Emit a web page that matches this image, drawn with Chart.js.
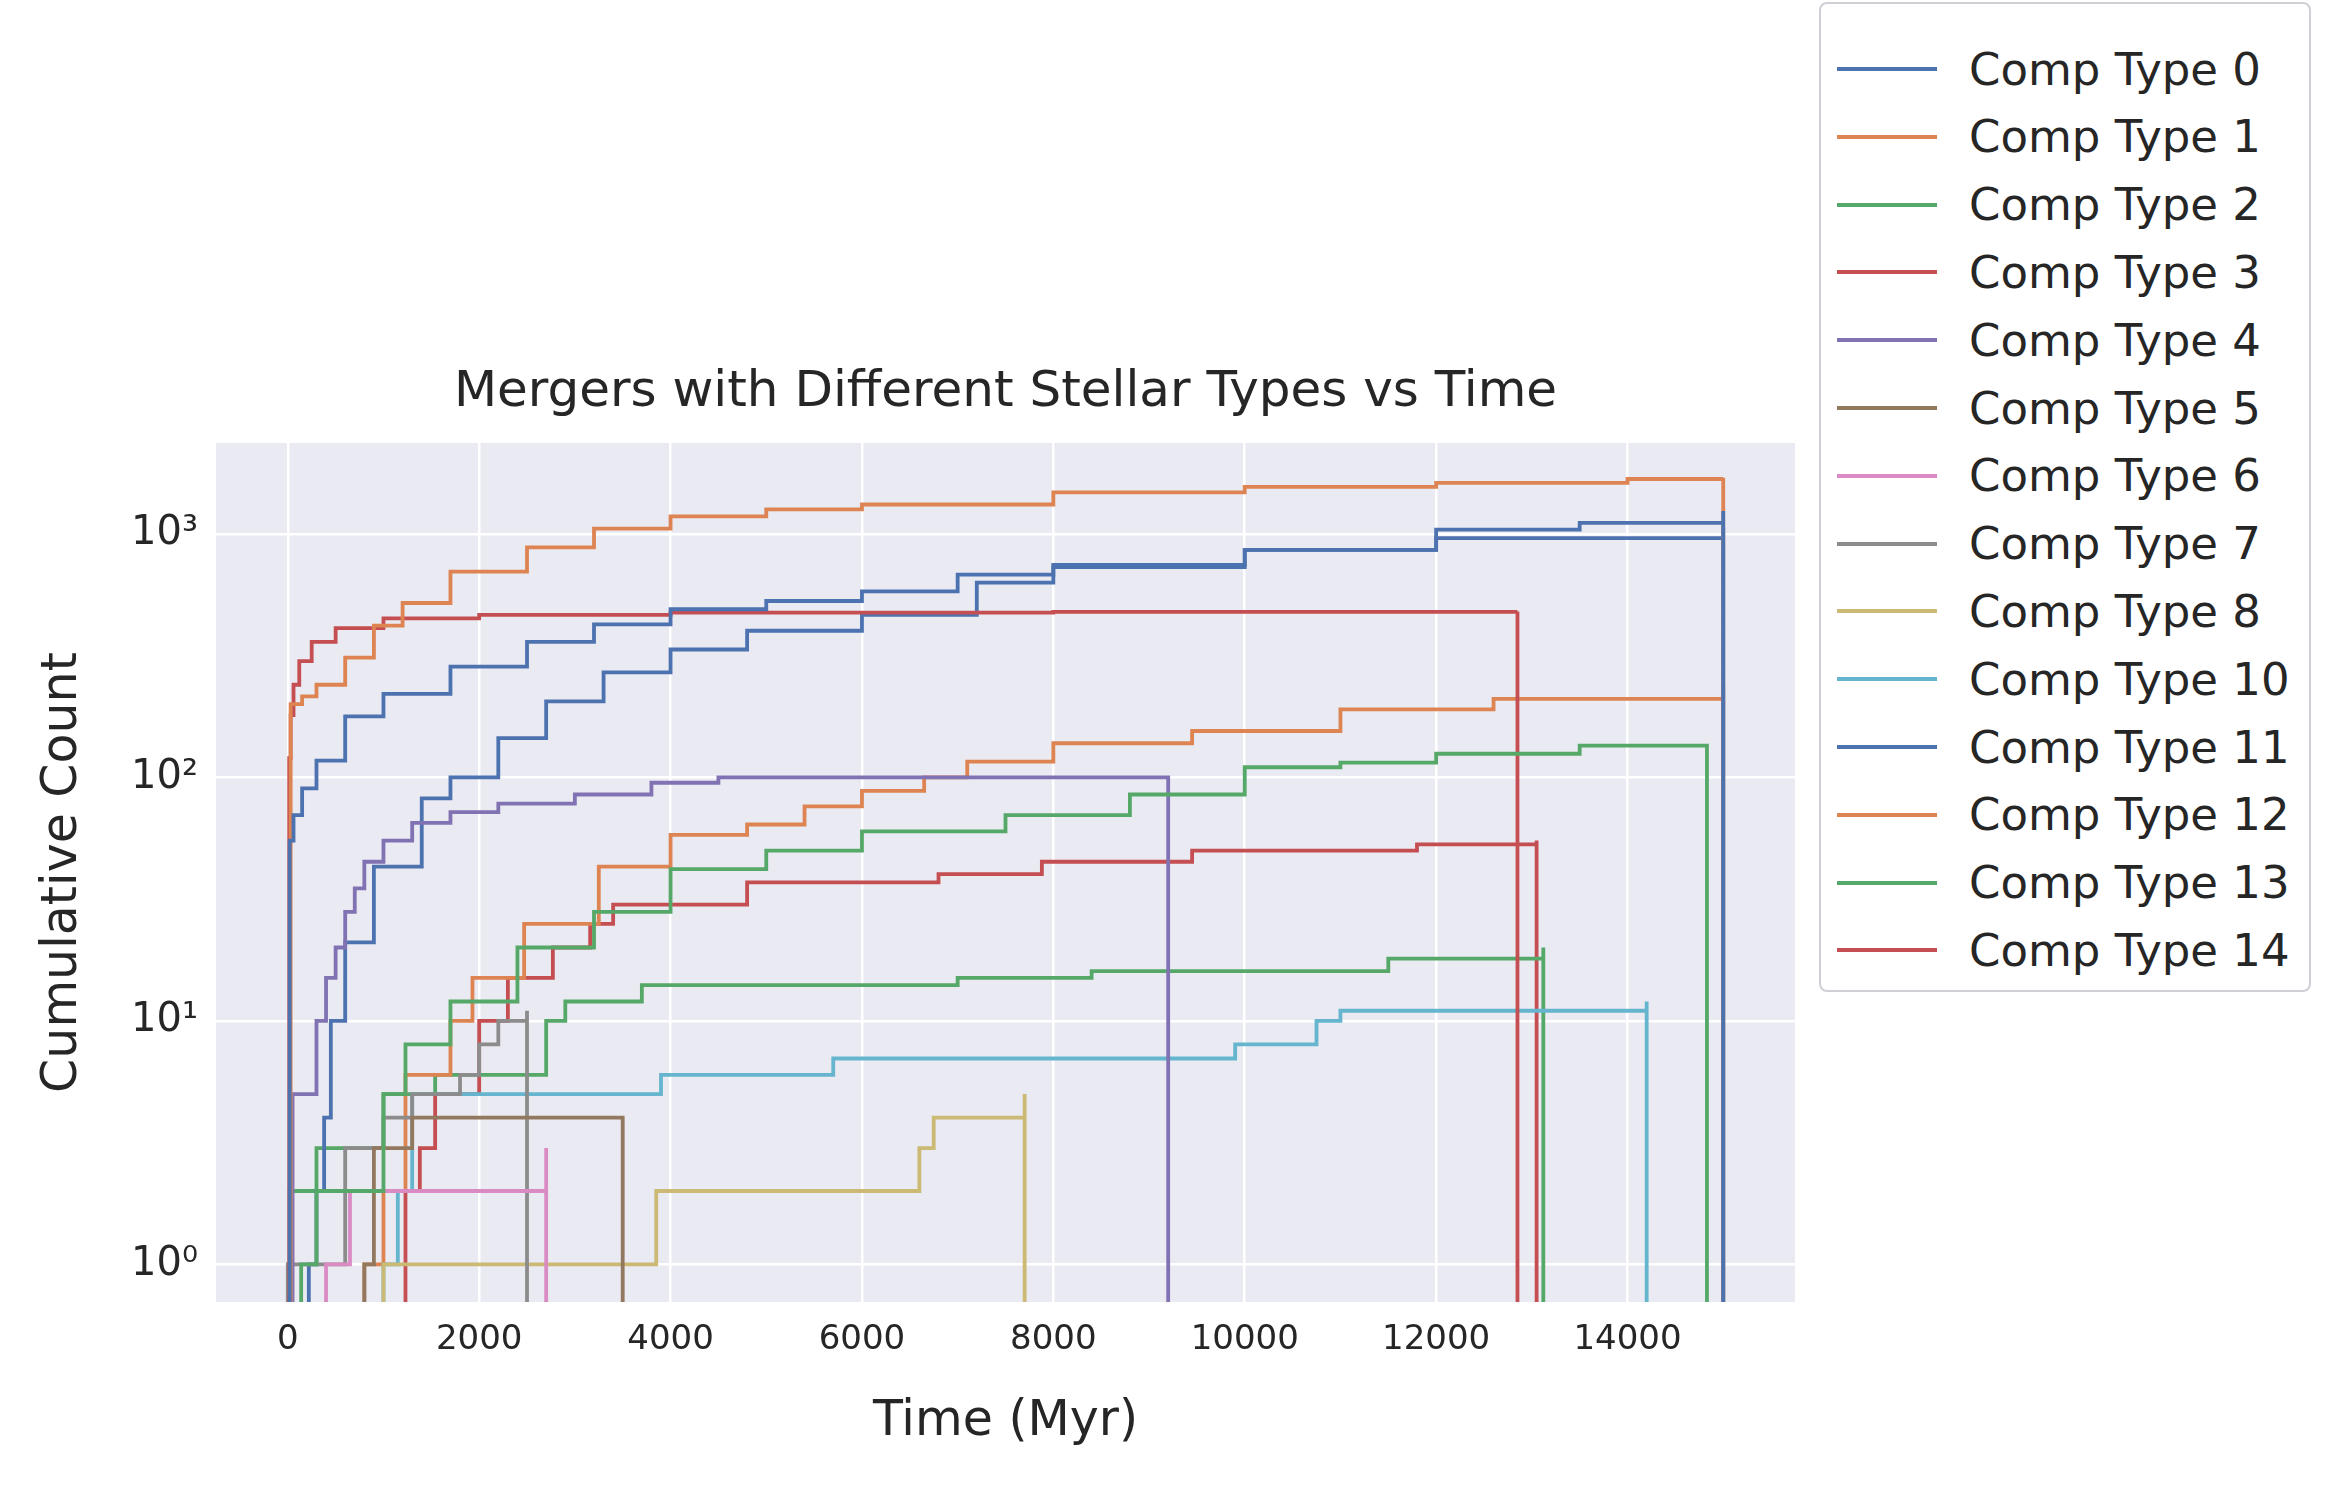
<!DOCTYPE html>
<html><head><meta charset="utf-8">
<script src="https://cdn.jsdelivr.net/npm/chart.js@4"></script>
<style>
html,body{margin:0;padding:0;background:#fff;}
#wrap{position:relative;width:2341px;height:1486px;font-family:"DejaVu Sans";}
#legend{position:absolute;left:1819px;top:2px;width:492px;height:990px;border:2px solid #cfcfd6;border-radius:8px;background:#fff;box-sizing:border-box;}
.it{position:absolute;left:16px;height:44px;display:flex;align-items:center;font-size:45px;color:#262626;white-space:nowrap;}
.it span.l{display:inline-block;width:100px;height:4px;margin-right:32px;}
</style></head>
<body><div id="wrap"><canvas id="c" width="2341" height="1486"></canvas><div id="legend"></div></div>
<script>
const names=["Comp Type 0","Comp Type 1","Comp Type 2","Comp Type 3","Comp Type 4","Comp Type 5","Comp Type 6","Comp Type 7","Comp Type 8","Comp Type 10","Comp Type 11","Comp Type 12","Comp Type 13","Comp Type 14"];
const colors=["#4c72b0","#dd8452","#55a868","#c44e52","#8172b3","#937860","#da8bc3","#8c8c8c","#ccb974","#64b5cd","#4c72b0","#dd8452","#55a868","#c44e52"];
const t0=[20,60,150,300,600,1000,1700,2500,3200,4000,5000,6000,7000,8000,10000,12000,13500,15000];
const c0=[55,70,90,117,178,220,285,360,425,490,530,580,680,745,860,1040,1110,1240];
const t1=[30,150,300,600,900,1200,1700,2500,3200,4000,5000,6000,8000,10000,12000,14000,15000];
const c1=[200,215,240,310,420,520,700,880,1050,1180,1260,1320,1480,1560,1620,1680,1700];
const t2=[140,300,1000,1230,1700,2400,3200,4000,5000,6000,7500,8800,10000,11000,12000,13500,14830];
const c2=[1,2,5,8,12,20,28,42,50,60,70,85,110,115,125,135,135];
const t3=[15,30,60,120,250,500,1000,2000,4000,8000,12850];
const c3=[120,180,240,300,360,410,450,465,475,478,480];
const t4=[50,300,400,500,600,700,800,1000,1300,1700,2200,3000,3800,4500,9200];
const c4=[5,10,15,20,28,35,45,55,65,72,78,85,95,100,100];
const t5=[800,900,1300,3500];const c5=[1,3,4,4];
const t6=[400,650,2700];const c6=[1,2,3];
const t7=[0,600,1000,1300,1800,2000,2200,2500];const c7=[1,3,4,5,6,8,10,11];
const t8=[1000,3850,6600,6750,7700];const c8=[1,2,3,4,5];
const t10=[1000,1150,1300,3900,5700,9900,10750,11000,14200];const c10=[1,2,5,6,7,8,10,11,12];
const t11=[220,300,380,450,600,900,1400,1700,2200,2700,3300,4000,4800,6000,7200,8000,10000,12000,15000];
const c11=[1,2,4,10,21,43,82,100,145,205,270,335,400,465,630,730,860,960,1060];
const t12=[800,1000,1230,1700,1930,2470,3250,4000,4800,5400,6000,6650,7100,8000,9450,11000,12600,15000];
const c12=[1,2,6,10,15,25,43,58,64,76,88,100,116,138,155,190,210,240];
const t13=[20,300,1000,1540,2700,2900,3700,7000,8400,11500,13120];
const c13=[2,3,5,6,10,12,14,15,16,18,20];
const t14=[1230,1380,1540,2000,2300,2770,3160,3400,4800,6800,7880,9450,11800,13050];
const c14=[2,3,5,10,15,20,25,30,37,40,45,50,53,55];
const yTicks=[1,10,100,1000];
const yLabels=["10\u2070","10\u00b9","10\u00b2","10\u00b3"];
const series=[[t0,c0],[t1,c1],[t2,c2],[t3,c3],[t4,c4],[t5,c5],[t6,c6],[t7,c7],[t8,c8],[t10,c10],[t11,c11],[t12,c12],[t13,c13],[t14,c14]];
function pts(t,c){const p=[{x:t[0],y:0.01}];for(let i=0;i<t.length;i++)p.push({x:t[i],y:c[i]});p.push({x:t[t.length-1],y:0.01});return p;}
const datasets=series.map((s,i)=>({label:names[i],data:pts(s[0],s[1]),borderColor:colors[i],borderWidth:3.8,pointRadius:0,stepped:'before',fill:false}));
const bg={id:'bg',beforeDraw(ch){const a=ch.chartArea,x=ch.ctx;x.save();x.fillStyle='#eaeaf2';x.fillRect(a.left,a.top,a.right-a.left,a.bottom-a.top);x.restore();}};
const F="DejaVu Sans";
new Chart(document.getElementById('c'),{type:'line',data:{datasets},plugins:[bg],
options:{responsive:false,animation:false,devicePixelRatio:1,
layout:{padding:{left:30,right:546,top:0,bottom:30}},
plugins:{legend:{display:false},tooltip:{enabled:false},
title:{display:true,fullSize:false,text:"Mergers with Different Stellar Types vs Time",color:'#262626',font:{family:F,size:50,weight:'normal'},padding:{top:363,bottom:20},lineHeight:1.2}},
scales:{
x:{type:'linear',min:-750,max:15750,grid:{color:'#fff',lineWidth:2.5},border:{display:false},
ticks:{color:'#262626',font:{family:F,size:34},padding:10,callback:v=>String(v)},
afterBuildTicks:s=>{s.ticks=[0,2000,4000,6000,8000,10000,12000,14000].map(v=>({value:v}));},
afterFit:s=>{s.height=154;},
title:{display:true,text:"Time (Myr)",color:'#262626',font:{family:F,size:49},padding:{top:0}}},
y:{type:'logarithmic',min:0.713,max:2361,grid:{color:'#fff',lineWidth:2.5},border:{display:false},
afterBuildTicks:s=>{s.ticks=yTicks.map(v=>({value:v}));},
ticks:{color:'#262626',font:{family:F,size:40},padding:10,callback:v=>{const i=yTicks.indexOf(v);return i>=0?yLabels[i]:'';}},
afterFit:s=>{s.width=186;},
title:{display:true,text:"Cumulative Count",color:'#262626',font:{family:F,size:49},padding:{bottom:4}}}}}});
const lg=document.getElementById('legend');
names.forEach((n,i)=>{const d=document.createElement('div');d.className='it';d.style.top=(43+i*67.8)+'px';d.innerHTML='<span class="l" style="background:'+colors[i]+'"></span>'+n;lg.appendChild(d);});
</script></body></html>
